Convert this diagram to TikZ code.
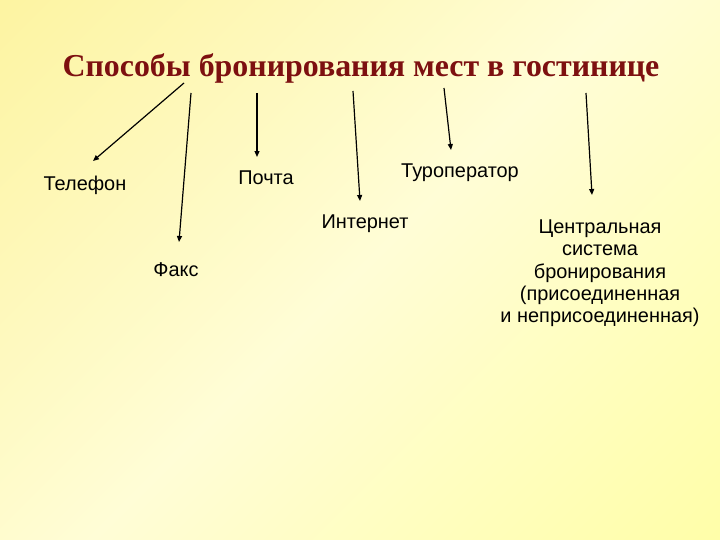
\documentclass[tikz,border=0pt]{standalone}
\usepackage{fontspec}
\setmainfont{Liberation Sans}
\newfontfamily\titlefont{Liberation Serif}
\usetikzlibrary{arrows.meta}
\definecolor{bgyellow}{RGB}{252,240,140}
\definecolor{bgcream}{RGB}{255,253,214}
\definecolor{bgyellowb}{RGB}{255,255,150}
\definecolor{titlered}{RGB}{125,16,16}
\pgfdeclarehorizontalshading{bgdiag}{100bp}{color(0bp)=(bgyellow); color(50bp)=(bgcream); color(100bp)=(bgyellowb)}
\tikzset{
  way/.style={font=\fontsize{20}{22.5}\selectfont, align=center, anchor=base, inner sep=0pt},
  wayarrow/.style={-{Triangle[length=6pt,width=5pt]}, line width=1.2pt, black}
}
\begin{document}
\begin{tikzpicture}[x=1bp, y=1bp]
    % фон
    \useasboundingbox (0,0) rectangle (720,540);
    \shade[shading=bgdiag, shading angle=-45] (0,0) rectangle (720,540);

    % заголовок
    \node[titlered, font=\titlefont\bfseries\fontsize{32}{38}\selectfont, anchor=base] (title) at (361, 463) {Способы бронирования мест в гостинице};

    % способы
    \node[way] (phone) at (85, 349) {Телефон};
    \node[way] (fax) at (176, 263) {Факс};
    \node[way] (mail) at (266, 355) {Почта};
    \node[way] (web) at (365, 311) {Интернет};
    \node[way] (tour) at (460, 362) {Туроператор};
    \node[way] (crs) at (600, 217) {Центральная\\система\\бронирования\\(присоединенная\\и неприсоединенная)};

    % начала и концы стрелок
    \coordinate (s1) at (184, 457); \coordinate (e1) at (93, 379);
    \coordinate (s2) at (191, 447); \coordinate (e2) at (179, 298);
    \coordinate (s3) at (257, 447); \coordinate (e3) at (257, 383);
    \coordinate (s4) at (353, 449); \coordinate (e4) at (360, 339);
    \coordinate (s5) at (444, 452); \coordinate (e5) at (451, 390);
    \coordinate (s6) at (586, 447); \coordinate (e6) at (592, 345);

    % стрелки
    \foreach \i in {1,...,6}
        \draw[wayarrow] (s\i) -- (e\i);
\end{tikzpicture}
\end{document}
